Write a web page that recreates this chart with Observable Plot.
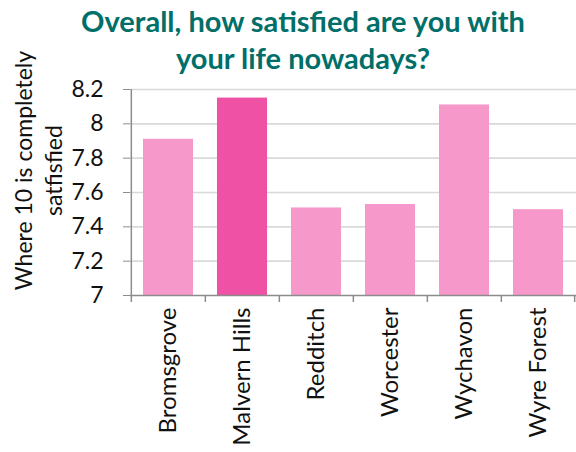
<!DOCTYPE html>
<html>
<head>
<meta charset="utf-8">
<script src="https://cdn.jsdelivr.net/npm/d3@7"></script>
<script src="https://cdn.jsdelivr.net/npm/@observablehq/plot@0.6"></script>
<style>
  html, body { margin: 0; padding: 0; background: #fff; }
  #wrap { position: relative; width: 576px; height: 452px; overflow: hidden; font-family: Lato, sans-serif; }
  #title { position: absolute; left: 30px; right: 0; top: 2px; text-align: center;
           font: bold 29px/37px Lato, sans-serif; color: #006F69; white-space: nowrap; z-index: 2; }
  svg { display: block; }
</style>
</head>
<body>
<div id="wrap">
  <div id="title">Overall, how satisfied are you with<br>your life nowadays?</div>
  <div id="chart"></div>
</div>
<script>
const categories = ["Bromsgrove", "Malvern Hills", "Redditch", "Worcester", "Wychavon", "Wyre Forest"];
const values = [7.91, 8.15, 7.51, 7.53, 8.11, 7.50];
const yTicks = [7, 7.2, 7.4, 7.6, 7.8, 8, 8.2];
const highlighted = ["Malvern Hills"];
const yLabel = "Where 10 is completely\nsatfisfied";

const data = categories.map((c, i) => ({area: c, value: values[i]}));

const W = 576, H = 452;
const mt = 89, mb = 157, ml = 130, mr = 0;
const step = (W - ml - mr) / categories.length;
const light = "#F698CA", dark = "#EF51A4";
const axisGray = "#8C8C8C";

const chart = Plot.plot({
  width: W, height: H,
  marginTop: mt, marginBottom: mb, marginLeft: ml, marginRight: mr,
  style: {fontFamily: "Lato, sans-serif", fontSize: "24px", color: "#111", background: "transparent", overflow: "visible"},
  x: {domain: categories, paddingInner: 0.33, paddingOuter: 0.165, label: null},
  y: {domain: [7, 8.2], label: null},
  marks: [
    Plot.ruleY(yTicks.filter(t => t > 7), {y: d => d, stroke: "#D9D9D9", strokeWidth: 1.6}),
    Plot.barY(data, {x: "area", y1: 7, y2: "value",
      fill: d => highlighted.includes(d.area) ? dark : light}),
    Plot.ruleY([7], {stroke: axisGray, strokeWidth: 1.5}),
    Plot.ruleX(categories.slice(0, 1), {x: d => d, dx: -step / 2, insetBottom: -7, stroke: axisGray, strokeWidth: 1.5}),
    Plot.ruleX(categories.slice(1), {x: d => d, dx: -step / 2, insetTop: H - mt - mb, insetBottom: -7, stroke: axisGray, strokeWidth: 1.5}),
    Plot.ruleX(categories.slice(-1), {x: d => d, dx: step / 2 - 1, insetTop: H - mt - mb, insetBottom: -7, stroke: axisGray, strokeWidth: 1.5}),
    Plot.axisY({ticks: yTicks, tickFormat: d3.format("~g"), tickSize: 7, tickPadding: 20,
      stroke: axisGray, fill: "#111", fontSize: 23, label: null}),
    Plot.axisX({tickSize: 0, tickPadding: 12, tickRotate: -90, fill: "#111", fontSize: 24, label: null}),
    Plot.text([yLabel], {frameAnchor: "left", text: d => d, rotate: -90, dx: -93, dy: -22,
      textAnchor: "middle", lineAnchor: "middle", lineHeight: 1.3, fontSize: 23, fill: "#111"})
  ]
});
document.getElementById("chart").appendChild(chart);
</script>
</body>
</html>
